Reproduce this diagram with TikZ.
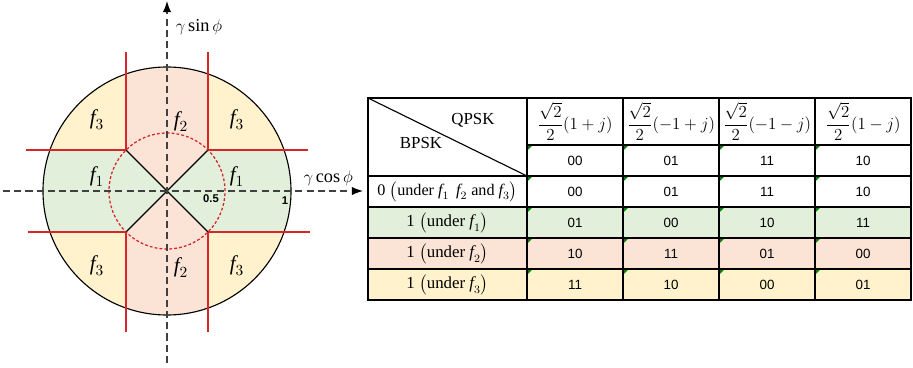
\documentclass[tikz,border=0pt]{standalone}
\usepackage{amsmath}
\usepackage{fontspec}
\setmainfont{Liberation Serif}
\setsansfont{Liberation Sans}
\usetikzlibrary{arrows.meta}
\definecolor{fone}{RGB}{226,239,218}
\definecolor{ftwo}{RGB}{251,228,214}
\definecolor{fthree}{RGB}{255,242,204}
\definecolor{bndred}{RGB}{214,38,40}
\definecolor{cmtgreen}{RGB}{0,128,0}
\tikzset{
  bound/.style={bndred, line width=1pt},
  axisline/.style={black!75, line width=0.8pt, dash pattern=on 5pt off 3pt},
  flab/.style={font=\fontsize{15}{17}\selectfont},
  numtxt/.style={font=\sffamily\fontsize{9.5}{11}\selectfont},
  rowtxt/.style={font=\fontsize{12}{14}\selectfont},
  grid/.style={line width=1pt},
}
\newcommand{\fsub}[1]{\textit{f}_{#1}}
\begin{document}
\begin{tikzpicture}
\useasboundingbox (-4.175,-4.4) rectangle (18.65,4.775);

% Regions
\begin{scope}
\clip (0,0) circle (3.1);
\fill [fthree] (-3.2,-3.2) rectangle (3.2,3.2);
\fill [ftwo] (-1.025,3.2) -- (-1.025,1.025) -- (0,0) -- (-1.025,-1.025) -- (-1.025,-3.2)
  -- (1.025,-3.2) -- (1.025,-1.025) -- (0,0) -- (1.025,1.025) -- (1.025,3.2) -- cycle;
\fill [fone] (-3.2,1.025) -- (-1.025,1.025) -- (0,0) -- (1.025,1.025) -- (3.2,1.025)
  -- (3.2,-1.025) -- (1.025,-1.025) -- (0,0) -- (-1.025,-1.025) -- (-3.2,-1.025) -- cycle;
\end{scope}
\draw [thick] (0,0) circle (3.1);

% Boundaries
\coordinate (o) at (0,0);
\coordinate (ne) at (1.025,1.025);
\coordinate (nw) at (-1.025,1.025);
\coordinate (sw) at (-1.025,-1.025);
\coordinate (se) at (1.025,-1.025);
\draw [thick] (nw) -- (se);
\draw [thick] (ne) -- (sw);
\draw [bound] (nw) -- ++(0,2.45);
\draw [bound] (nw) -- ++(-2.5,0);
\draw [bound] (ne) -- ++(0,2.45);
\draw [bound] (ne) -- ++(2.5,0);
\draw [bound] (sw) -- ++(0,-2.5);
\draw [bound] (sw) -- ++(-2.45,0);
\draw [bound] (se) -- ++(0,-2.5);
\draw [bound] (se) -- ++(2.55,0);
\draw [bndred, line width=0.9pt, dash pattern=on 2pt off 1.5pt] (o) circle (1.45);

% Axes
\coordinate (xl) at (-4.1,0);
\coordinate (xr) at (4.9,0);
\coordinate (yb) at (0,-4.3);
\coordinate (yt) at (0,4.75);
\draw [axisline, -{Latex[length=8pt,width=6pt,black]}] (xl) -- (xr);
\draw [axisline, -{Latex[length=8pt,width=6pt,black]}] (yb) -- (yt);
\node (ylab) [font=\fontsize{13}{15}\selectfont] at (0.8,4.1) {$\gamma\sin\phi$};
\node (xlab) [font=\fontsize{13}{15}\selectfont] at (4.03,0.33) {$\gamma\cos\phi$};
\node (half) [font=\sffamily\bfseries\fontsize{8}{9}\selectfont] at (1.1,-0.2) {0.5};
\node (one) [font=\sffamily\bfseries\fontsize{8}{9}\selectfont] at (2.95,-0.23) {1};

% Labels
\node (f3a) [flab] at (-1.75,1.78) {$\fsub{3}$};
\node (f2a) [flab] at (0.35,1.73) {$\fsub{2}$};
\node (f3b) [flab] at (1.75,1.78) {$\fsub{3}$};
\node (f1a) [flab] at (-1.75,0.36) {$\fsub{1}$};
\node (f1b) [flab] at (1.75,0.36) {$\fsub{1}$};
\node (f3c) [flab] at (-1.75,-1.86) {$\fsub{3}$};
\node (f2b) [flab] at (0.35,-1.92) {$\fsub{2}$};
\node (f3d) [flab] at (1.75,-1.86) {$\fsub{3}$};

% Table
\fill [fone] (5.025,-0.4) rectangle (18.6,-1.175);
\fill [ftwo] (5.025,-1.175) rectangle (18.6,-1.95);
\fill [fthree] (5.025,-1.95) rectangle (18.6,-2.725);
\foreach \y in {1.15,0.375,-0.4,-1.175,-1.95}
  \foreach \x in {9.0,11.4,13.8,16.2}
    \fill [cmtgreen] (\x+0.03,\y-0.03) -- ++(0.085,0) -- ++(-0.085,-0.085) -- cycle;
\draw [grid] (5.025,2.325) rectangle (18.6,-2.725);
\foreach \x in {9.0,11.4,13.8,16.2}
  \draw [grid] (\x,2.325) -- (\x,-2.725);
\draw [grid] (9.0,1.15) -- (18.6,1.15);
\foreach \y in {0.375,-0.4,-1.175,-1.95}
  \draw [grid] (5.025,\y) -- (18.6,\y);
\draw [thick] (5.025,2.325) -- (9.0,0.375);
\node (qpsk) [rowtxt] at (7.65,1.78) {QPSK};
\node (bpsk) [rowtxt] at (6.35,1.2) {BPSK};

\foreach \x/\t [count=\i] in {10.2/{1+j},12.6/{-1+j},15.0/{-1-j},17.4/{1-j}}
  \node (h-\i) [rowtxt] at (\x,1.7375) {$\dfrac{\sqrt{2}}{2}(\t)$};

\node (r-0) [rowtxt, font=\fontsize{11.5}{14}\selectfont] at (7.0125,-0.0125)
  {0 $\bigl($under $\fsub{1}$\, $\fsub{2}$ and $\fsub{3}\bigr)$};
\node (r-1) [rowtxt] at (7.0125,-0.7875) {1 $\bigl($under $\fsub{1}\bigr)$};
\node (r-2) [rowtxt] at (7.0125,-1.5625) {1 $\bigl($under $\fsub{2}\bigr)$};
\node (r-3) [rowtxt] at (7.0125,-2.3375) {1 $\bigl($under $\fsub{3}\bigr)$};

\foreach \y/\vals [count=\r] in {0.7625/{00,01,11,10},-0.0125/{00,01,11,10},
    -0.7875/{01,00,10,11},-1.5625/{10,11,01,00},-2.3375/{11,10,00,01}}
  \foreach \v [count=\i] in \vals
    \node (d-\r-\i) [numtxt] at (7.8+2.4*\i,\y) {\v};
\end{tikzpicture}
\end{document}
